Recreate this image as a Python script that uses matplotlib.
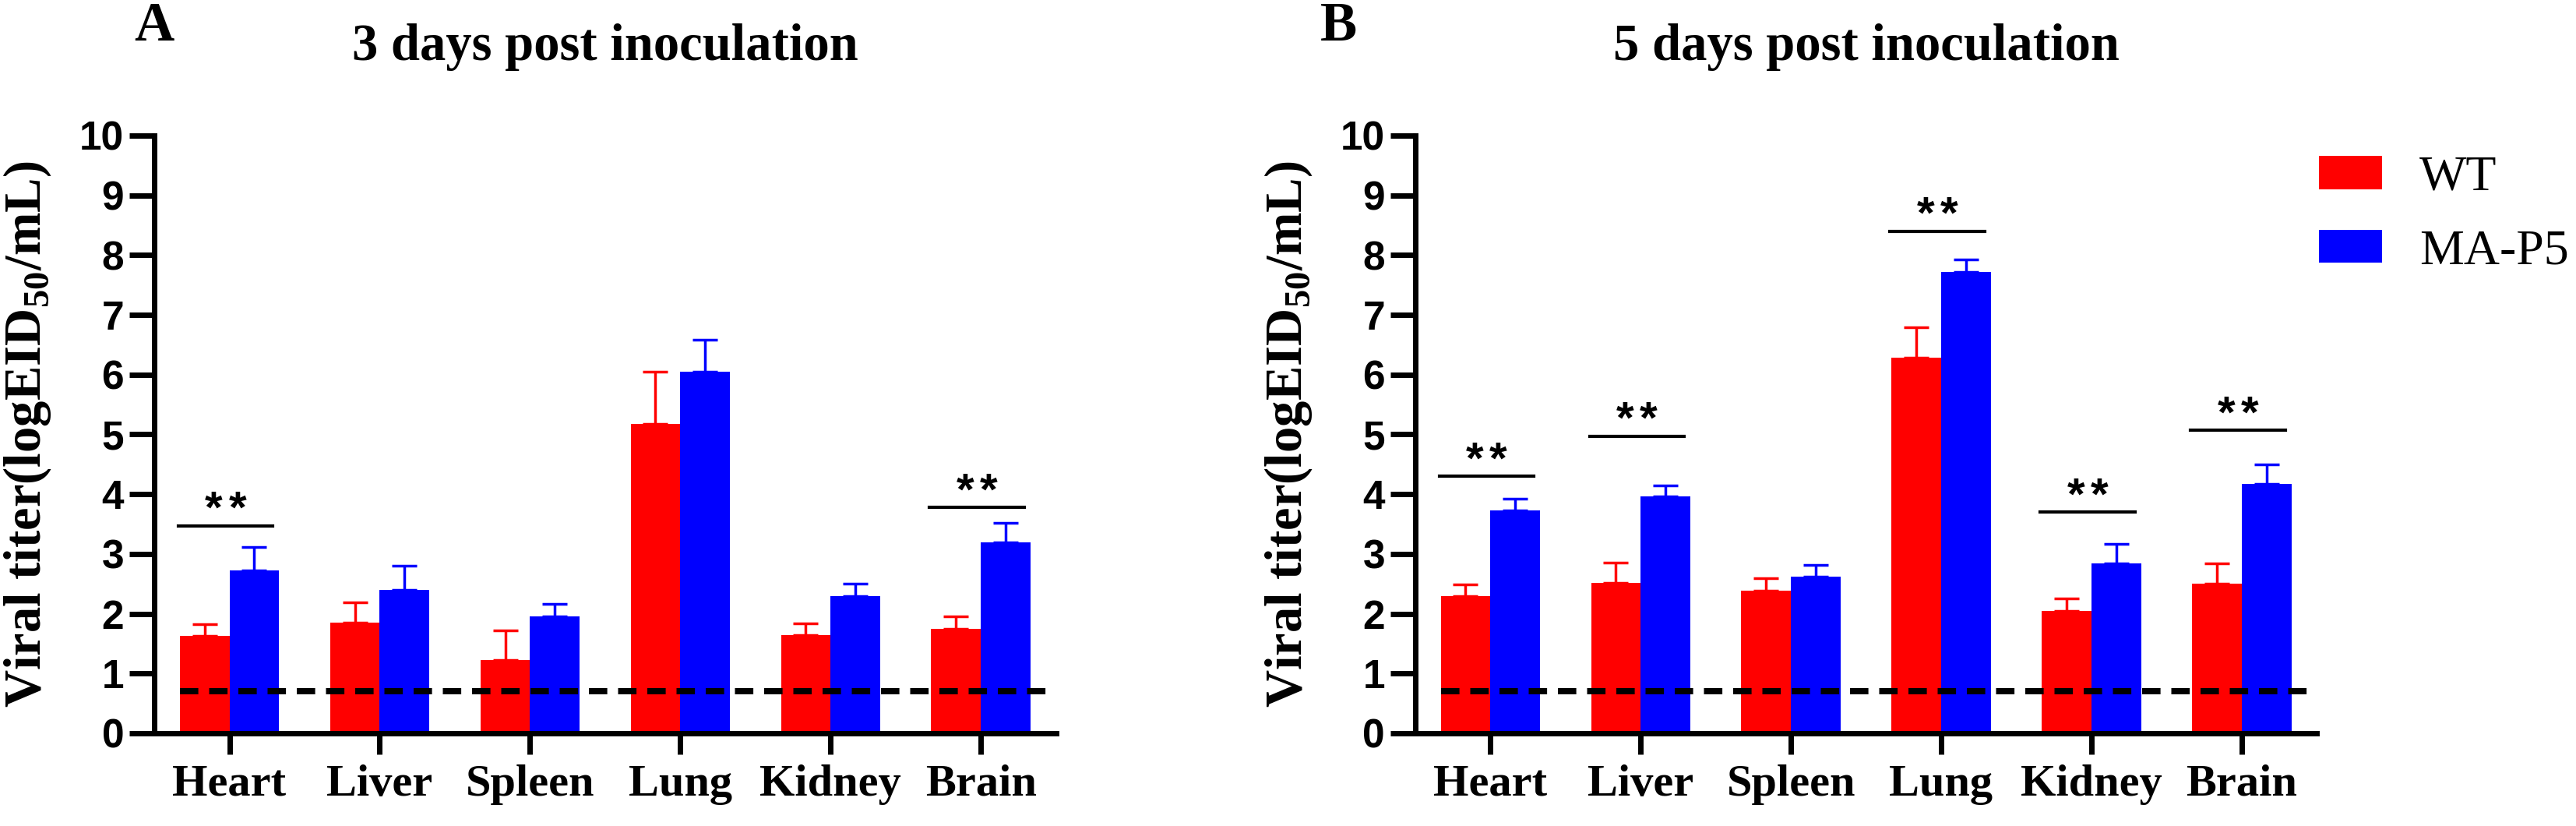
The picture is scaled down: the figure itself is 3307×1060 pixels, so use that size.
import numpy as np
import matplotlib
matplotlib.use("Agg")
import matplotlib.pyplot as plt

plt.rcParams["lines.scale_dashes"] = False

organs = ["Heart", "Liver", "Spleen", "Lung", "Kidney", "Brain"]
groups = ["WT", "MA-P5"]
colors = ["#ff0000", "#0000ff"]

# 3 days post inoculation (mean, upper SD)
wt_d3 = [1.63, 1.85, 1.23, 5.18, 1.64, 1.75]
wt_d3_err = [0.19, 0.34, 0.49, 0.87, 0.20, 0.20]
ma_d3 = [2.73, 2.40, 1.96, 6.05, 2.30, 3.19]
ma_d3_err = [0.39, 0.40, 0.20, 0.53, 0.20, 0.33]

# 5 days post inoculation
wt_d5 = [2.29, 2.52, 2.39, 6.28, 2.05, 2.50]
wt_d5_err = [0.20, 0.34, 0.20, 0.51, 0.20, 0.34]
ma_d5 = [3.73, 3.96, 2.62, 7.72, 2.84, 4.17]
ma_d5_err = [0.20, 0.19, 0.20, 0.20, 0.33, 0.33]

# significance brackets: organ index and bracket height
sig_d3_idx = [0, 5]
sig_d3_y = [3.47, 3.78]
sig_d5_idx = [0, 1, 3, 4, 5]
sig_d5_y = [4.30, 4.97, 8.40, 3.70, 5.07]

LOD = 0.7   # detection limit line

SERIF = "Liberation Serif"
SANS = "Liberation Sans"


def panel(ax, wt, wt_err, ma, ma_err, sig_idx, sig_y, title):
    x = np.arange(len(organs))
    w = 0.33
    bars = []
    for off, vals, errs, col, lab in [(-w / 2, wt, wt_err, colors[0], groups[0]),
                                      (w / 2, ma, ma_err, colors[1], groups[1])]:
        b = ax.bar(x + off, vals, w, color=col, label=lab, zorder=2)
        ax.errorbar(x + off, vals, yerr=[np.zeros(len(vals)), errs], fmt="none",
                    ecolor=col, elinewidth=2.5, capsize=11.5, capthick=2.5, zorder=1)
        bars.append(b)

    ax.plot([x[0] - w, x[-1] + w + 0.12], [LOD, LOD], color="k", lw=5.8,
            dashes=(17, 10), dash_capstyle="butt", zorder=3)

    # ** brackets; the two stars are set apart like in the original
    for i, y in zip(sig_idx, sig_y):
        ax.plot([i - 0.34, i + 0.29], [y, y], color="k", lw=3, zorder=3)
        for dx in (-0.078, 0.078):
            ax.text(i - 0.025 + dx, y + 0.05, "*", ha="center", va="baseline",
                    fontsize=42, fontweight="bold", family=SANS)

    ax.set_xlim(-0.5, 5.5)
    ax.set_ylim(0, 10)
    ax.set_yticks(range(0, 11))
    ax.set_xticks(x, organs, fontsize=42, fontweight="bold", family=SERIF)
    for lab in ax.get_yticklabels():
        lab.set_fontfamily(SANS)
        lab.set_fontweight("bold")
        lab.set_fontsize(37)
    for s in ["top", "right"]:
        ax.spines[s].set_visible(False)
    for s in ["left", "bottom"]:
        ax.spines[s].set_linewidth(5)
    ax.tick_params(axis="y", length=23, width=5, pad=5)
    ax.tick_params(axis="x", length=19.5, width=5, pad=9)

    ax.set_ylabel(r"Viral titer(logEID$_\mathregular{50}$/mL)", fontsize=48,
                  fontweight="bold", family=SERIF)
    ax.yaxis.set_label_coords(-0.112, 0.5)
    ax.set_title(title, fontsize=48, fontweight="bold", family=SERIF, pad=70)
    return bars


fig = plt.figure(figsize=(33.07, 10.60), dpi=100)
axA = fig.add_axes([0.0599, 0.1123, 0.350, 0.7236])
axB = fig.add_axes([0.5494, 0.1123, 0.350, 0.7236])

panel(axA, wt_d3, wt_d3_err, ma_d3, ma_d3_err, sig_d3_idx, sig_d3_y,
      "3 days post inoculation")
bars = panel(axB, wt_d5, wt_d5_err, ma_d5, ma_d5_err, sig_d5_idx, sig_d5_y,
             "5 days post inoculation")

fig.text(172 / 3307, 1 - 52 / 1060, "A", fontsize=51, fontweight="bold",
         family=SERIF, va="baseline")
fig.text(1695 / 3307, 1 - 52 / 1060, "B", fontsize=51, fontweight="bold",
         family=SERIF, va="baseline")

fig.legend(handles=bars, labels=groups, loc="upper left",
           bbox_to_anchor=(2977 / 3307, 1 - 200 / 1060), frameon=False,
           prop={"family": SERIF, "size": 46}, handlelength=1.27,
           handleheight=0.64, handletextpad=0.75, labelspacing=0.57,
           borderpad=0, borderaxespad=0)

fig.savefig("out.png", dpi=100)
